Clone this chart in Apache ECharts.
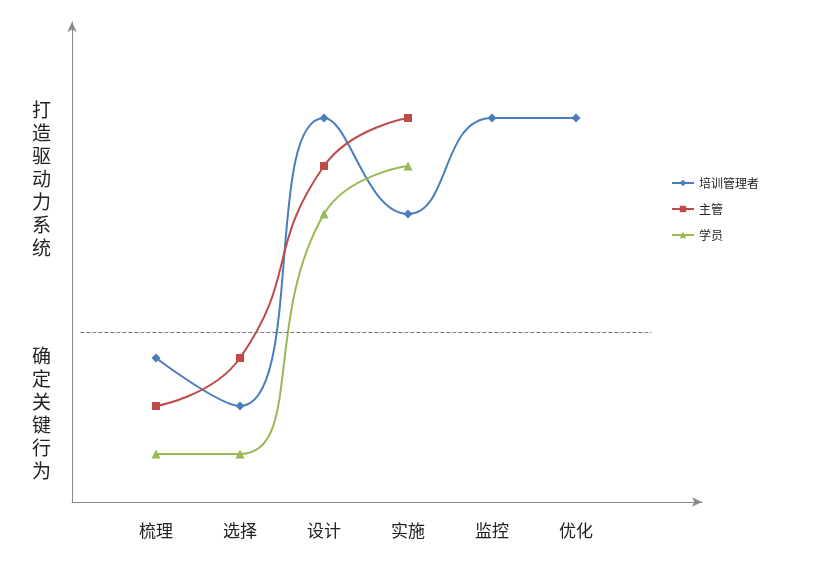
<!DOCTYPE html>
<html><head><meta charset="utf-8">
<script src="https://cdn.jsdelivr.net/npm/echarts@6/dist/echarts.min.js"></script>
<style>body{margin:0;background:#fff}#c{width:832px;height:566px}</style>
</head><body><div id="c"></div>
<script>
var categories = ['梳理', '选择', '设计', '实施', '监控', '优化'];
var trainer = [3, 2, 8, 6, 8, 8];
var manager = [2, 3, 7, 8];
var student = [1, 1, 6, 7];
var dividerLevel = 3.54;

function pts(arr){ return arr.map(function(v,i){ return [i+1, v]; }); }

var chart = echarts.init(document.getElementById('c'));
var font = '"Noto Sans CJK SC", sans-serif';
chart.setOption({
  animation: false,
  grid: {left: 72, right: 130, top: 22, bottom: 64},
  legend: {
    orient: 'vertical', left: 666, top: 172, itemGap: 14,
    itemWidth: 22, itemHeight: 8,
    textStyle: {fontSize: 12, color: '#222', fontFamily: font},
    data: ['培训管理者', '主管', '学员']
  },
  xAxis: {
    type: 'value', min: 0, max: 7.5, interval: 1,
    splitLine: {show: false}, axisTick: {show: false},
    axisLine: {lineStyle: {color: '#888'}, symbol: ['none', 'arrow'], symbolSize: [7, 10]},
    axisLabel: {margin: 20, fontSize: 17, color: '#222', fontFamily: font,
      formatter: function(v){ return categories[v-1] || ''; }}
  },
  yAxis: {
    type: 'value', min: 0, max: 10,
    splitLine: {show: false}, axisLabel: {show: false}, axisTick: {show: false},
    axisLine: {show: true, lineStyle: {color: '#888'}, symbol: ['none', 'arrow'], symbolSize: [7, 10]}
  },
  graphic: [
    {type: 'text', left: 32, top: 98, style: {text: '打\n造\n驱\n动\n力\n系\n统', fontSize: 19, lineHeight: 23, fill: '#222', fontFamily: font}},
    {type: 'text', left: 32, top: 344, style: {text: '确\n定\n关\n键\n行\n为', fontSize: 19, lineHeight: 23, fill: '#222', fontFamily: font}}
  ],
  series: [
    {name: '培训管理者', type: 'line', smooth: 0.5, data: pts(trainer),
      symbol: 'diamond', symbolSize: 9, color: '#4a7ebb', lineStyle: {width: 2},
      markLine: {silent: true, symbol: 'none', label: {show: false},
        lineStyle: {type: 'dashed', color: '#777', width: 1},
        data: [[{coord: [0.1, dividerLevel]}, {coord: [6.9, dividerLevel]}]]}},
    {name: '主管', type: 'line', smooth: 0.5, data: pts(manager),
      symbol: 'rect', symbolSize: 8, color: '#be4b48', lineStyle: {width: 2}},
    {name: '学员', type: 'line', smooth: 0.5, data: pts(student),
      symbol: 'triangle', symbolSize: 9, color: '#98b954', lineStyle: {width: 2}}
  ]
});
</script></body></html>
